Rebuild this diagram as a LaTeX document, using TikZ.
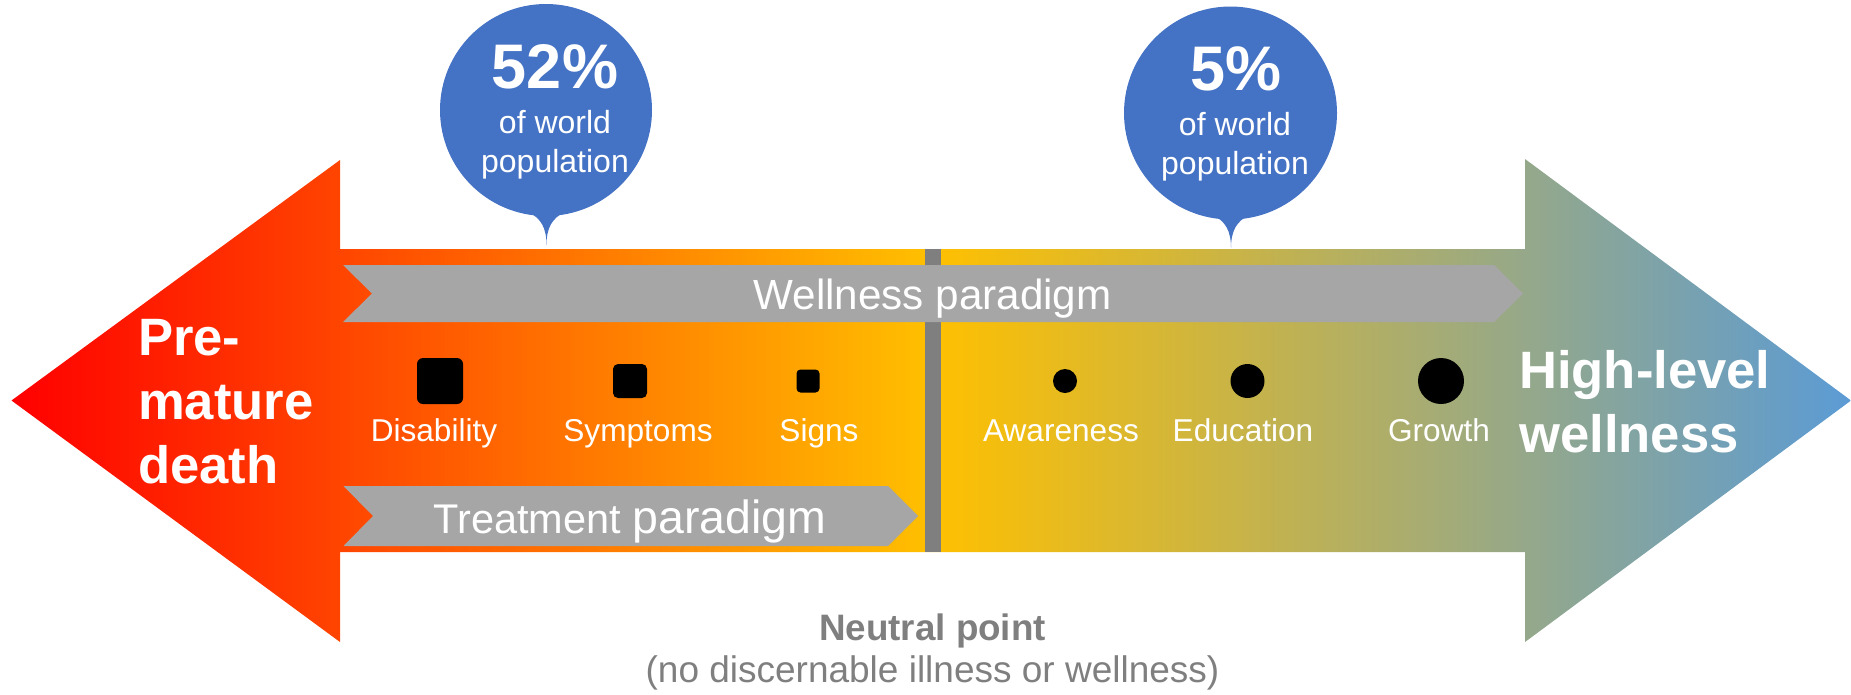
\documentclass[tikz,border=0pt]{standalone}
\usepackage{fontspec}
\setmainfont{Liberation Sans}
\definecolor{bubbleblue}{HTML}{4472C4}
\definecolor{bandgrey}{HTML}{A6A6A6}
\definecolor{dividergrey}{HTML}{7F7F7F}
\definecolor{gred}{HTML}{FF0000}
\definecolor{gmid}{HTML}{FFC000}
\definecolor{gblue}{HTML}{5B9BD5}
\definecolor{greytext}{HTML}{7F7F7F}
\begin{document}
\begin{tikzpicture}[x=1pt,y=-1pt,
  lbl/.style={text=white, inner sep=0pt, anchor=base, font=\fontsize{31.6}{38}\selectfont},
  sq/.style={fill=black, inner sep=0pt, draw=none},
  dot/.style={circle, fill=black, inner sep=0pt},
  bubblebody/.style={circle, fill=bubbleblue, inner sep=0pt, minimum size=212pt},
  bigtext/.style={text=white, inner sep=0pt, anchor=base west, font=\fontsize{52.6}{64}\selectfont\bfseries},
  pcttext/.style={text=white, inner sep=0pt, anchor=base, font=\fontsize{63}{70}\selectfont\bfseries},
  poptext/.style={text=white, inner sep=0pt, anchor=base, font=\fontsize{32}{39}\selectfont},
  bandtext/.style={text=white, inner sep=0pt, anchor=base},
  neutraltext/.style={text=greytext, inner sep=0pt, anchor=base},
]
\useasboundingbox (0,0) rectangle (1851,694);

% double arrow with gradient
\shade[left color=gred, right color=gblue, middle color=gmid]
  (11.5,400.5) -- (340,160) -- (340,249) -- (1525,249) -- (1525,159)
  -- (1851,400.5) -- (1525,642) -- (1525,552) -- (340,552) -- (340,642) -- cycle;

% neutral divider
\fill[dividergrey] (925,249) rectangle (941,552);

% paradigm bands
\fill[bandgrey] (343,265) -- (1494,265) -- (1523,293.5) -- (1494,322) -- (343,322) -- (372,293.5) -- cycle;
\fill[bandgrey] (343.5,486) -- (888,486) -- (918,516) -- (888,546) -- (343.5,546) -- (373,516) -- cycle;

\node[bandtext, font=\fontsize{42.2}{50}\selectfont] (wp) at (932.5,309) {Wellness paradigm};
\node[bandtext] (tp) at (630,533) {{\fontsize{41.5}{50}\selectfont Treatment }{\fontsize{46.5}{50}\selectfont paradigm}};

% end labels
\node[bigtext] (pre) at (138,355) {\begin{tabular}[t]{@{}l@{}}Pre-\\mature\\death\end{tabular}};
\node[bigtext] (hlw) at (1519,388) {\begin{tabular}[t]{@{}l@{}}High-level\\wellness\end{tabular}};

% bubbles
\node[bubblebody] (b1) at (546,110) {};
\fill[bubbleblue] (528,212) .. controls (541,218) and (546.5,228) .. (546.5,245)
  .. controls (546.5,228) and (552,218) .. (565,212) -- cycle;
\node[pcttext] (b1pct) at (555,88) {52\%};
\node[poptext] (b1txt) at (555,133) {\begin{tabular}[t]{@{}c@{}}of world\\population\end{tabular}};

\node[bubblebody, minimum size=213pt] (b2) at (1230.5,113) {};
\fill[bubbleblue] (1212.5,215) .. controls (1225.5,221) and (1231,231) .. (1231,248)
  .. controls (1231,231) and (1236.5,221) .. (1249.5,215) -- cycle;
\node[pcttext] (b2pct) at (1236,90) {5\%};
\node[poptext] (b2txt) at (1235,135) {\begin{tabular}[t]{@{}c@{}}of world\\population\end{tabular}};

% markers
\node[sq, rounded corners=6pt, minimum size=46pt] (dis) at (440,381) {};
\node[sq, rounded corners=5pt, minimum size=34pt] (sym) at (630,381) {};
\node[sq, rounded corners=4pt, minimum size=23pt] (sig) at (808,381) {};
\node[dot, minimum size=24pt] (awa) at (1065,381) {};
\node[dot, minimum size=34pt] (edu) at (1247.5,381) {};
\node[dot, minimum size=46pt] (gro) at (1441,381) {};

\node[lbl] (disl) at (434,441) {Disability};
\node[lbl] (syml) at (638,441) {Symptoms};
\node[lbl] (sigl) at (819,441) {Signs};
\node[lbl] (awal) at (1061,441) {Awareness};
\node[lbl] (edul) at (1243,441) {Education};
\node[lbl] (grol) at (1439,441) {Growth};

% neutral point caption
\node[neutraltext, font=\fontsize{36.8}{44}\selectfont\bfseries] (np) at (932.5,640) {Neutral point};
\node[neutraltext, font=\fontsize{37}{44}\selectfont] (npd) at (932.5,682) {(no discernable illness or wellness)};
\end{tikzpicture}
\end{document}
